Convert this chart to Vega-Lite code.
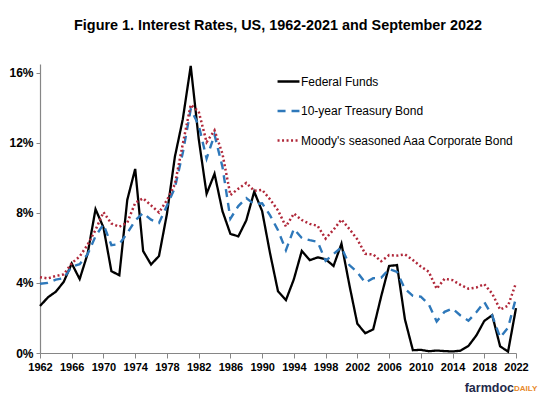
{
  "$schema": "https://vega.github.io/schema/vega-lite/v6.json",
  "autosize": "none",
  "width": 476,
  "height": 289,
  "padding": {"left": 40, "top": 64, "right": 24, "bottom": 43},
  "background": "white",
  "title": {
    "text": "Figure 1.  Interest Rates, US, 1962-2021 and September 2022",
    "font": "Liberation Sans",
    "fontSize": 14.4,
    "fontWeight": "bold",
    "color": "black",
    "anchor": "middle",
    "frame": "group",
    "offset": 28
  },
  "config": {
    "view": {"stroke": null},
    "font": "Liberation Sans",
    "axisX": {"labelOverlap": false, "labelFlush": false, "title": null, "grid": false, "domainColor": "#868686", "domainWidth": 1.2, "tickColor": "#868686", "tickSize": 5, "labelFont": "Liberation Sans", "labelFontSize": 11, "labelFontWeight": "bold", "labelColor": "black", "labelPadding": 3},
    "axisY": {"labelOverlap": false, "title": null, "grid": false, "domainColor": "#868686", "domainWidth": 1.2, "tickColor": "#868686", "tickSize": 4, "labelFont": "Liberation Sans", "labelFontSize": 12, "labelFontWeight": "bold", "labelColor": "black", "labelPadding": 3}
  },
  "datasets": {
    "rates": [
      {"year":1962,"series":"Federal Funds","rate":2.68},{"year":1963,"series":"Federal Funds","rate":3.18},{"year":1964,"series":"Federal Funds","rate":3.50},{"year":1965,"series":"Federal Funds","rate":4.07},{"year":1966,"series":"Federal Funds","rate":5.11},{"year":1967,"series":"Federal Funds","rate":4.22},{"year":1968,"series":"Federal Funds","rate":5.66},{"year":1969,"series":"Federal Funds","rate":8.21},{"year":1970,"series":"Federal Funds","rate":7.17},{"year":1971,"series":"Federal Funds","rate":4.67},{"year":1972,"series":"Federal Funds","rate":4.44},{"year":1973,"series":"Federal Funds","rate":8.74},{"year":1974,"series":"Federal Funds","rate":10.51},{"year":1975,"series":"Federal Funds","rate":5.82},{"year":1976,"series":"Federal Funds","rate":5.05},{"year":1977,"series":"Federal Funds","rate":5.54},{"year":1978,"series":"Federal Funds","rate":7.94},{"year":1979,"series":"Federal Funds","rate":11.20},{"year":1980,"series":"Federal Funds","rate":13.35},{"year":1981,"series":"Federal Funds","rate":16.39},{"year":1982,"series":"Federal Funds","rate":12.24},{"year":1983,"series":"Federal Funds","rate":9.09},{"year":1984,"series":"Federal Funds","rate":10.23},{"year":1985,"series":"Federal Funds","rate":8.10},{"year":1986,"series":"Federal Funds","rate":6.80},{"year":1987,"series":"Federal Funds","rate":6.66},{"year":1988,"series":"Federal Funds","rate":7.57},{"year":1989,"series":"Federal Funds","rate":9.21},{"year":1990,"series":"Federal Funds","rate":8.10},{"year":1991,"series":"Federal Funds","rate":5.69},{"year":1992,"series":"Federal Funds","rate":3.52},{"year":1993,"series":"Federal Funds","rate":3.02},{"year":1994,"series":"Federal Funds","rate":4.21},{"year":1995,"series":"Federal Funds","rate":5.83},{"year":1996,"series":"Federal Funds","rate":5.30},{"year":1997,"series":"Federal Funds","rate":5.46},{"year":1998,"series":"Federal Funds","rate":5.35},{"year":1999,"series":"Federal Funds","rate":4.97},{"year":2000,"series":"Federal Funds","rate":6.24},{"year":2001,"series":"Federal Funds","rate":3.88},{"year":2002,"series":"Federal Funds","rate":1.67},{"year":2003,"series":"Federal Funds","rate":1.13},{"year":2004,"series":"Federal Funds","rate":1.35},{"year":2005,"series":"Federal Funds","rate":3.22},{"year":2006,"series":"Federal Funds","rate":4.97},{"year":2007,"series":"Federal Funds","rate":5.02},{"year":2008,"series":"Federal Funds","rate":1.92},{"year":2009,"series":"Federal Funds","rate":0.16},{"year":2010,"series":"Federal Funds","rate":0.18},{"year":2011,"series":"Federal Funds","rate":0.10},{"year":2012,"series":"Federal Funds","rate":0.14},{"year":2013,"series":"Federal Funds","rate":0.11},{"year":2014,"series":"Federal Funds","rate":0.09},{"year":2015,"series":"Federal Funds","rate":0.13},{"year":2016,"series":"Federal Funds","rate":0.40},{"year":2017,"series":"Federal Funds","rate":1.00},{"year":2018,"series":"Federal Funds","rate":1.83},{"year":2019,"series":"Federal Funds","rate":2.16},{"year":2020,"series":"Federal Funds","rate":0.38},{"year":2021,"series":"Federal Funds","rate":0.08},{"year":2022,"series":"Federal Funds","rate":2.56},
      {"year":1962,"series":"10-year Treasury Bond","rate":3.95},{"year":1963,"series":"10-year Treasury Bond","rate":4.00},{"year":1964,"series":"10-year Treasury Bond","rate":4.19},{"year":1965,"series":"10-year Treasury Bond","rate":4.28},{"year":1966,"series":"10-year Treasury Bond","rate":4.93},{"year":1967,"series":"10-year Treasury Bond","rate":5.07},{"year":1968,"series":"10-year Treasury Bond","rate":5.64},{"year":1969,"series":"10-year Treasury Bond","rate":6.67},{"year":1970,"series":"10-year Treasury Bond","rate":7.35},{"year":1971,"series":"10-year Treasury Bond","rate":6.16},{"year":1972,"series":"10-year Treasury Bond","rate":6.21},{"year":1973,"series":"10-year Treasury Bond","rate":6.85},{"year":1974,"series":"10-year Treasury Bond","rate":7.56},{"year":1975,"series":"10-year Treasury Bond","rate":7.99},{"year":1976,"series":"10-year Treasury Bond","rate":7.61},{"year":1977,"series":"10-year Treasury Bond","rate":7.42},{"year":1978,"series":"10-year Treasury Bond","rate":8.41},{"year":1979,"series":"10-year Treasury Bond","rate":9.43},{"year":1980,"series":"10-year Treasury Bond","rate":11.43},{"year":1981,"series":"10-year Treasury Bond","rate":13.92},{"year":1982,"series":"10-year Treasury Bond","rate":13.01},{"year":1983,"series":"10-year Treasury Bond","rate":11.10},{"year":1984,"series":"10-year Treasury Bond","rate":12.46},{"year":1985,"series":"10-year Treasury Bond","rate":10.62},{"year":1986,"series":"10-year Treasury Bond","rate":7.67},{"year":1987,"series":"10-year Treasury Bond","rate":8.39},{"year":1988,"series":"10-year Treasury Bond","rate":8.85},{"year":1989,"series":"10-year Treasury Bond","rate":8.49},{"year":1990,"series":"10-year Treasury Bond","rate":8.55},{"year":1991,"series":"10-year Treasury Bond","rate":7.86},{"year":1992,"series":"10-year Treasury Bond","rate":7.01},{"year":1993,"series":"10-year Treasury Bond","rate":5.87},{"year":1994,"series":"10-year Treasury Bond","rate":7.09},{"year":1995,"series":"10-year Treasury Bond","rate":6.57},{"year":1996,"series":"10-year Treasury Bond","rate":6.44},{"year":1997,"series":"10-year Treasury Bond","rate":6.35},{"year":1998,"series":"10-year Treasury Bond","rate":5.26},{"year":1999,"series":"10-year Treasury Bond","rate":5.65},{"year":2000,"series":"10-year Treasury Bond","rate":6.03},{"year":2001,"series":"10-year Treasury Bond","rate":5.02},{"year":2002,"series":"10-year Treasury Bond","rate":4.61},{"year":2003,"series":"10-year Treasury Bond","rate":4.01},{"year":2004,"series":"10-year Treasury Bond","rate":4.27},{"year":2005,"series":"10-year Treasury Bond","rate":4.29},{"year":2006,"series":"10-year Treasury Bond","rate":4.80},{"year":2007,"series":"10-year Treasury Bond","rate":4.63},{"year":2008,"series":"10-year Treasury Bond","rate":3.66},{"year":2009,"series":"10-year Treasury Bond","rate":3.26},{"year":2010,"series":"10-year Treasury Bond","rate":3.22},{"year":2011,"series":"10-year Treasury Bond","rate":2.78},{"year":2012,"series":"10-year Treasury Bond","rate":1.80},{"year":2013,"series":"10-year Treasury Bond","rate":2.35},{"year":2014,"series":"10-year Treasury Bond","rate":2.54},{"year":2015,"series":"10-year Treasury Bond","rate":2.14},{"year":2016,"series":"10-year Treasury Bond","rate":1.84},{"year":2017,"series":"10-year Treasury Bond","rate":2.33},{"year":2018,"series":"10-year Treasury Bond","rate":2.91},{"year":2019,"series":"10-year Treasury Bond","rate":2.14},{"year":2020,"series":"10-year Treasury Bond","rate":0.89},{"year":2021,"series":"10-year Treasury Bond","rate":1.45},{"year":2022,"series":"10-year Treasury Bond","rate":3.15},
      {"year":1962,"series":"Moody's seasoned Aaa Corporate Bond","rate":4.33},{"year":1963,"series":"Moody's seasoned Aaa Corporate Bond","rate":4.26},{"year":1964,"series":"Moody's seasoned Aaa Corporate Bond","rate":4.40},{"year":1965,"series":"Moody's seasoned Aaa Corporate Bond","rate":4.49},{"year":1966,"series":"Moody's seasoned Aaa Corporate Bond","rate":5.13},{"year":1967,"series":"Moody's seasoned Aaa Corporate Bond","rate":5.51},{"year":1968,"series":"Moody's seasoned Aaa Corporate Bond","rate":6.18},{"year":1969,"series":"Moody's seasoned Aaa Corporate Bond","rate":7.03},{"year":1970,"series":"Moody's seasoned Aaa Corporate Bond","rate":8.04},{"year":1971,"series":"Moody's seasoned Aaa Corporate Bond","rate":7.39},{"year":1972,"series":"Moody's seasoned Aaa Corporate Bond","rate":7.21},{"year":1973,"series":"Moody's seasoned Aaa Corporate Bond","rate":7.44},{"year":1974,"series":"Moody's seasoned Aaa Corporate Bond","rate":8.57},{"year":1975,"series":"Moody's seasoned Aaa Corporate Bond","rate":8.83},{"year":1976,"series":"Moody's seasoned Aaa Corporate Bond","rate":8.43},{"year":1977,"series":"Moody's seasoned Aaa Corporate Bond","rate":8.02},{"year":1978,"series":"Moody's seasoned Aaa Corporate Bond","rate":8.73},{"year":1979,"series":"Moody's seasoned Aaa Corporate Bond","rate":9.63},{"year":1980,"series":"Moody's seasoned Aaa Corporate Bond","rate":11.94},{"year":1981,"series":"Moody's seasoned Aaa Corporate Bond","rate":14.17},{"year":1982,"series":"Moody's seasoned Aaa Corporate Bond","rate":13.79},{"year":1983,"series":"Moody's seasoned Aaa Corporate Bond","rate":12.04},{"year":1984,"series":"Moody's seasoned Aaa Corporate Bond","rate":12.71},{"year":1985,"series":"Moody's seasoned Aaa Corporate Bond","rate":11.37},{"year":1986,"series":"Moody's seasoned Aaa Corporate Bond","rate":9.02},{"year":1987,"series":"Moody's seasoned Aaa Corporate Bond","rate":9.38},{"year":1988,"series":"Moody's seasoned Aaa Corporate Bond","rate":9.71},{"year":1989,"series":"Moody's seasoned Aaa Corporate Bond","rate":9.26},{"year":1990,"series":"Moody's seasoned Aaa Corporate Bond","rate":9.32},{"year":1991,"series":"Moody's seasoned Aaa Corporate Bond","rate":8.77},{"year":1992,"series":"Moody's seasoned Aaa Corporate Bond","rate":8.14},{"year":1993,"series":"Moody's seasoned Aaa Corporate Bond","rate":7.22},{"year":1994,"series":"Moody's seasoned Aaa Corporate Bond","rate":7.96},{"year":1995,"series":"Moody's seasoned Aaa Corporate Bond","rate":7.59},{"year":1996,"series":"Moody's seasoned Aaa Corporate Bond","rate":7.37},{"year":1997,"series":"Moody's seasoned Aaa Corporate Bond","rate":7.26},{"year":1998,"series":"Moody's seasoned Aaa Corporate Bond","rate":6.53},{"year":1999,"series":"Moody's seasoned Aaa Corporate Bond","rate":7.04},{"year":2000,"series":"Moody's seasoned Aaa Corporate Bond","rate":7.62},{"year":2001,"series":"Moody's seasoned Aaa Corporate Bond","rate":7.08},{"year":2002,"series":"Moody's seasoned Aaa Corporate Bond","rate":6.49},{"year":2003,"series":"Moody's seasoned Aaa Corporate Bond","rate":5.66},{"year":2004,"series":"Moody's seasoned Aaa Corporate Bond","rate":5.63},{"year":2005,"series":"Moody's seasoned Aaa Corporate Bond","rate":5.24},{"year":2006,"series":"Moody's seasoned Aaa Corporate Bond","rate":5.59},{"year":2007,"series":"Moody's seasoned Aaa Corporate Bond","rate":5.56},{"year":2008,"series":"Moody's seasoned Aaa Corporate Bond","rate":5.63},{"year":2009,"series":"Moody's seasoned Aaa Corporate Bond","rate":5.31},{"year":2010,"series":"Moody's seasoned Aaa Corporate Bond","rate":4.94},{"year":2011,"series":"Moody's seasoned Aaa Corporate Bond","rate":4.64},{"year":2012,"series":"Moody's seasoned Aaa Corporate Bond","rate":3.67},{"year":2013,"series":"Moody's seasoned Aaa Corporate Bond","rate":4.24},{"year":2014,"series":"Moody's seasoned Aaa Corporate Bond","rate":4.16},{"year":2015,"series":"Moody's seasoned Aaa Corporate Bond","rate":3.89},{"year":2016,"series":"Moody's seasoned Aaa Corporate Bond","rate":3.67},{"year":2017,"series":"Moody's seasoned Aaa Corporate Bond","rate":3.74},{"year":2018,"series":"Moody's seasoned Aaa Corporate Bond","rate":3.93},{"year":2019,"series":"Moody's seasoned Aaa Corporate Bond","rate":3.39},{"year":2020,"series":"Moody's seasoned Aaa Corporate Bond","rate":2.48},{"year":2021,"series":"Moody's seasoned Aaa Corporate Bond","rate":2.70},{"year":2022,"series":"Moody's seasoned Aaa Corporate Bond","rate":4.00}
    ],
    "logo": [
      {"part": "farmdoc"},
      {"part": "DAILY"}
    ]
  },
  "layer": [
    {
      "data": {"name": "rates"},
      "mark": {"type": "line"},
      "encoding": {
        "x": {
          "field": "year", "type": "quantitative",
          "scale": {"domain": [1962, 2022], "nice": false, "zero": false},
          "axis": {
            "values": [1962,1966,1970,1974,1978,1982,1986,1990,1994,1998,2002,2006,2010,2014,2018,2022],
            "format": "d",
            "labelOverlap": false
          }
        },
        "y": {
          "field": "rate", "type": "quantitative",
          "scale": {"domain": [0, 16.5], "nice": false},
          "axis": {
            "values": [0, 4, 8, 12, 16],
            "labelExpr": "datum.value + '%'"
          }
        },
        "color": {
          "field": "series", "type": "nominal",
          "scale": {
            "domain": ["Federal Funds", "10-year Treasury Bond", "Moody's seasoned Aaa Corporate Bond"],
            "range": ["#000000", "#2E78BA", "#B0283A"]
          },
          "legend": {
            "title": null,
            "orient": "none",
            "legendX": 236,
            "legendY": 5,
            "symbolType": "stroke",
            "symbolSize": 480,
            "symbolStrokeWidth": 2.3,
            "labelFont": "Liberation Sans",
            "labelFontSize": 12,
            "labelColor": "black",
            "labelOffset": 0,
            "rowPadding": 10.5,
            "labelLimit": 300
          }
        },
        "strokeDash": {
          "field": "series", "type": "nominal",
          "scale": {
            "domain": ["Federal Funds", "10-year Treasury Bond", "Moody's seasoned Aaa Corporate Bond"],
            "range": [[1, 0], [8, 6], [2, 2.5]]
          },
          "legend": null
        },
        "strokeWidth": {
          "field": "series", "type": "nominal",
          "scale": {
            "domain": ["Federal Funds", "10-year Treasury Bond", "Moody's seasoned Aaa Corporate Bond"],
            "range": [2.3, 2.5, 2]
          },
          "legend": null
        }
      }
    },
    {
      "data": {"name": "logo"},
      "transform": [{"filter": "datum.part == 'farmdoc'"}],
      "mark": {"type": "text", "align": "right", "baseline": "middle", "font": "Liberation Sans", "fontSize": 12.5, "fontWeight": "bold", "color": "#1F2A4A", "dx": -2},
      "encoding": {
        "x": {"datum": 2022, "type": "quantitative", "axis": {"values": [1962,1966,1970,1974,1978,1982,1986,1990,1994,1998,2002,2006,2010,2014,2018,2022], "format": "d", "labelOverlap": false}},
        "y": {"datum": -2.0, "type": "quantitative", "axis": {"values": [0, 4, 8, 12, 16], "labelExpr": "datum.value + '%'"}},
        "text": {"field": "part"}
      }
    },
    {
      "data": {"name": "logo"},
      "transform": [{"filter": "datum.part == 'DAILY'"}],
      "mark": {"type": "text", "align": "left", "baseline": "middle", "font": "Liberation Sans", "fontSize": 8, "fontWeight": "bold", "color": "#E8892B", "dx": -2, "dy": 1},
      "encoding": {
        "x": {"datum": 2022, "type": "quantitative", "axis": {"values": [1962,1966,1970,1974,1978,1982,1986,1990,1994,1998,2002,2006,2010,2014,2018,2022], "format": "d", "labelOverlap": false}},
        "y": {"datum": -2.0, "type": "quantitative", "axis": {"values": [0, 4, 8, 12, 16], "labelExpr": "datum.value + '%'"}},
        "text": {"field": "part"}
      }
    }
  ]
}
